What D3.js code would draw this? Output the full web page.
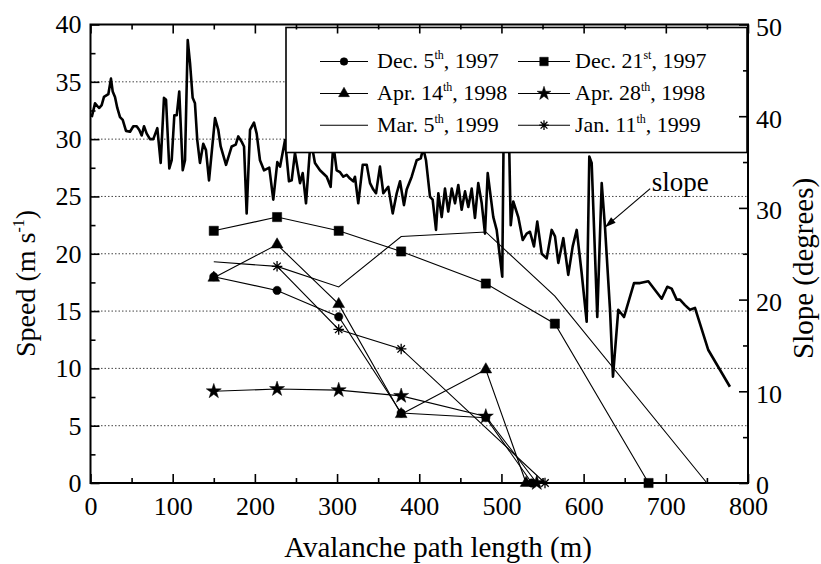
<!DOCTYPE html>
<html>
<head>
<meta charset="utf-8">
<script src="https://cdn.jsdelivr.net/npm/d3@7"></script>
<style>
  body { margin: 0; background: #fff; }
  svg { display: block; }
  text { font-family: "Liberation Serif", "Times New Roman", serif; fill: #000; }
</style>
</head>
<body>
<svg id="chart" width="821" height="564"></svg>
<script>
// ---- Avalanche front speeds (m/s) along the path (m) ----
const dec5X  = [150, 227, 302, 378, 481, 537];
const dec5V  = [18.0, 16.8, 14.5, 6.1, 5.7, 0];
const dec21X = [150, 227, 302, 378, 481, 565, 679];
const dec21V = [22.0, 23.2, 22.0, 20.2, 17.4, 13.9, 0];
const apr14X = [150, 227, 302, 378, 481, 530];
const apr14V = [17.9, 20.8, 15.6, 6.0, 9.9, 0];
const apr28X = [150, 227, 302, 378, 481, 543];
const apr28V = [8.0, 8.2, 8.1, 7.6, 5.8, 0];
const mar5X  = [150, 227, 302, 378, 481, 565, 750];
const mar5V  = [19.3, 18.9, 17.1, 21.5, 21.9, 16.3, 0];
const jan11X = [227, 302, 378, 553];
const jan11V = [18.9, 13.4, 11.7, 0];

// ---- Terrain slope profile (degrees) along the path (m) ----
const slopeDist = [1.5,5.5,8.3,10.7,13.6,16.4,21.7,24.9,27,29.8,
  32.6,35.9,39.2,43.2,48.1,52.1,56.2,59.4,62.3,65.1,
  68.4,72.4,76.4,81.3,85.4,89.4,91.9,95.9,98.8,102,
  104.9,108,112.2,115,118.3,121.1,124.3,127.1,129.9,133.2,
  137.2,140.5,144.2,151.5,155.5,158.4,164.9,171.8,176.7,179.8,
  184,186.8,190,194.1,198.9,202.2,206.2,211.1,217.5,222.4,
  227.3,230.6,236.7,241.5,244.8,248.8,251.6,254.9,258.2,262.2,
  267.9,273.1,279.2,287.4,292.2,295.4,299.5,303.6,307.6,311.7,
  315.7,319.7,321.8,325.8,331.2,336.1,340.1,344.1,347.4,352.2,
  356.3,362.3,367.7,372.6,376.6,381.4,384.7,390.8,396.9,401.8,
  404.9,408.2,413.1,416.3,420.4,423.2,427.3,431.3,435.3,439.5,
  443.5,447.5,451.6,455.7,459.7,463.8,467.8,471.8,476,480,
  483.3,490.1,494.2,501,503.1,508.3,511.3,514.4,520.5,525.9,
  530.7,534.7,539.6,543.6,549,555.1,561.1,565.2,569.2,575.3,
  581.3,586.7,591.6,597.6,603.7,606.9,609.8,616.6,622,626,
  632.1,635.7,642.2,649.1,661.3,668.6,678.7,695,701.8,707.1,
  713.2,717.2,723.3,729.4,735.5,751.7,778];
const slopeDeg = [39.9,41.4,41.1,40.9,41.2,42.1,42.4,44.1,42.7,42.1,
  40.9,39.9,39.6,38.4,38.3,38.9,38.9,38.5,37.9,38.9,
  38.1,37.5,37.5,38.7,34.9,42.0,41.8,34.3,35.2,40.1,
  40.1,42.7,34.1,35.2,48.3,45.8,42.0,41.4,37.4,34.9,
  37.0,36.3,33.0,39.8,38.5,36.7,34.7,36.7,36.9,37.8,
  37.2,36.7,29.4,38.5,39.3,38.1,35.2,34.1,34.4,30.9,
  35.0,34.5,37.4,32.9,33.0,36.0,34.5,32.7,33.8,30.5,
  37.5,34.9,34.1,33.4,32.3,37,34.1,33.9,33.4,33.6,
  33.2,32.9,33.4,30.5,34.7,34.7,32.7,32.0,31.6,34.5,
  31.6,32.3,29.4,31.6,32.9,30.3,32.0,33.4,35.2,35.4,
  36.5,35.2,31.2,30.9,27.6,31.6,29.0,32.1,29.6,32.1,
  30.5,32.5,29.8,31.8,30.1,32.1,28.9,32.7,30.5,27.2,
  33.8,29.0,27.6,22.5,42,42,28.1,30.7,29.0,26.5,
  27.2,27.4,25.8,28.5,25.0,24.5,27.6,26.9,24.0,26.7,
  22.7,25.8,27.6,22.9,17.6,35.6,34.9,18.1,32.7,27.9,
  18.9,11.6,18.9,18.1,21.8,21.8,22.0,20.1,21.4,21.2,
  20.0,20.0,19.4,18.9,19.1,14.5,10.5];

// ---- Axis ticks ----
const xTicks = [0, 100, 200, 300, 400, 500, 600, 700, 800];
const xMinor = [50, 150, 250, 350, 450, 550, 650, 750];
const speedTicks = [0, 5, 10, 15, 20, 25, 30, 35, 40];
const speedMinor = [2.5, 7.5, 12.5, 17.5, 22.5, 27.5, 32.5, 37.5];
const slopeTicks = [0, 10, 20, 30, 40, 50];
const slopeMinor = [5, 15, 25, 35, 45];
const gridSpeeds = [5, 10, 15, 20, 25, 30, 35];

// ---- Legend text ----
const legendDay  = ["Dec. 5", "Dec. 21", "Apr. 14", "Apr. 28", "Mar. 5", "Jan. 11"];
const legendSup  = ["th", "st", "th", "th", "th", "th"];
const legendYear = [", 1997", ", 1997", ", 1998", ", 1998", ", 1999", ", 1999"];

const SERIF = "'Liberation Serif', 'Times New Roman', serif";
const svg = d3.select("#chart");
const x = d3.scaleLinear().domain([0, 800]).range([90.5, 748]);
const ySpeed = d3.scaleLinear().domain([0, 40]).range([483, 24.5]);
const ySlope = d3.scaleLinear().domain([0, 50]).range([483, 24.5]);

// custom eight-armed asterisk (stroked)
const asteriskSym = {
  draw(ctx, size) {
    const r = Math.sqrt(size) / 2;
    const d = r * Math.SQRT1_2;
    ctx.moveTo(0, -r); ctx.lineTo(0, r);
    ctx.moveTo(-r, 0); ctx.lineTo(r, 0);
    ctx.moveTo(-d, -d); ctx.lineTo(d, d);
    ctx.moveTo(-d, d); ctx.lineTo(d, -d);
  }
};

const series = [
  { xs: dec5X,  vs: dec5V,  sym: d3.symbolCircle,   size: 55,  fill: true },
  { xs: dec21X, vs: dec21V, sym: d3.symbolSquare,   size: 85,  fill: true },
  { xs: apr14X, vs: apr14V, sym: d3.symbolTriangle, size: 60,  fill: true },
  { xs: apr28X, vs: apr28V, sym: d3.symbolStar,     size: 70,  fill: true },
  { xs: mar5X,  vs: mar5V,  sym: null,              size: 0,   fill: true },
  { xs: jan11X, vs: jan11V, sym: asteriskSym,       size: 110, fill: false }
];

// clip region = plot frame
svg.append("defs").append("clipPath").attr("id", "plotClip")
  .append("rect")
  .attr("x", x(0)).attr("y", ySpeed(40))
  .attr("width", x(800) - x(0)).attr("height", ySpeed(0) - ySpeed(40));

// dotted horizontal grid
svg.append("g").selectAll("line").data(gridSpeeds).join("line")
  .attr("x1", x(0)).attr("x2", x(800))
  .attr("y1", d => ySpeed(d)).attr("y2", d => ySpeed(d))
  .attr("stroke", "#444").attr("stroke-width", 1)
  .attr("stroke-dasharray", "1.5,2");

const plot = svg.append("g").attr("clip-path", "url(#plotClip)");

// terrain slope (right axis)
const slopePts = slopeDist.map((d, i) => [d, slopeDeg[i]]);
plot.append("path")
  .attr("d", d3.line().x(d => x(d[0])).y(d => ySlope(d[1]))(slopePts))
  .attr("fill", "none").attr("stroke", "#000")
  .attr("stroke-width", 2.6).attr("stroke-linejoin", "round");

// speed series
const speedLine = d3.line().x(d => x(d[0])).y(d => ySpeed(d[1]));
series.forEach(s => {
  const pts = s.xs.map((d, i) => [d, s.vs[i]]);
  svg.append("path").attr("d", speedLine(pts))
    .attr("fill", "none").attr("stroke", "#000").attr("stroke-width", 1.1);
  if (s.sym) {
    svg.append("g").selectAll("path").data(pts).join("path")
      .attr("transform", d => `translate(${x(d[0])},${ySpeed(d[1])})`)
      .attr("d", d3.symbol().type(s.sym).size(s.size))
      .attr("fill", s.fill ? "#000" : "none")
      .attr("stroke", "#000").attr("stroke-width", s.fill ? 0.5 : 1.3);
  }
});

// legend
const lg = svg.append("g");
lg.append("rect").attr("x", 286).attr("y", 27.5).attr("width", 461).attr("height", 125)
  .attr("fill", "#fff").attr("stroke", "#000").attr("stroke-width", 1.6);
const colLine = [[320, 368], [518, 570]];
const colText = [377, 575];
const rowBase = [68, 100, 131.7];
series.forEach((s, i) => {
  const c = i % 2, r = Math.floor(i / 2);
  const cy = rowBase[r] - 6.5;
  lg.append("line").attr("x1", colLine[c][0]).attr("x2", colLine[c][1])
    .attr("y1", cy).attr("y2", cy).attr("stroke", "#000").attr("stroke-width", 1.1);
  if (s.sym) {
    lg.append("path")
      .attr("transform", `translate(${(colLine[c][0] + colLine[c][1]) / 2},${cy})`)
      .attr("d", d3.symbol().type(s.sym).size(s.size * 0.85))
      .attr("fill", s.fill ? "#000" : "none")
      .attr("stroke", "#000").attr("stroke-width", s.fill ? 0.5 : 1.3);
  }
  const t = lg.append("text").attr("x", colText[c]).attr("y", rowBase[r]).attr("font-size", 22);
  t.append("tspan").text(legendDay[i]);
  t.append("tspan").attr("font-size", 12).attr("dy", -9).text(legendSup[i]);
  t.append("tspan").attr("dy", 9).text(legendYear[i]);
});

// axes: ticks point inward
const axisStyle = g => {
  g.attr("font-family", null);
  g.select(".domain").remove();
  g.selectAll(".tick line").attr("stroke", "#000").attr("stroke-width", 1.6);
  g.selectAll("text").attr("font-size", 26).attr("fill", "#000");
};
svg.append("g").attr("transform", `translate(0,${ySpeed(0)})`)
  .call(d3.axisBottom(x).tickValues(xTicks).tickSize(-9).tickPadding(14).tickFormat(d3.format("d")))
  .call(axisStyle)
  .call(g => g.selectAll("text").attr("dy", "0.71em"));
svg.append("g").attr("transform", `translate(0,${ySpeed(0)})`)
  .call(d3.axisBottom(x).tickValues(xMinor).tickSize(-5).tickFormat(""))
  .call(axisStyle);
svg.append("g").attr("transform", `translate(0,${ySpeed(40)})`)
  .call(d3.axisTop(x).tickValues(xTicks).tickSize(-9).tickFormat(""))
  .call(axisStyle);
svg.append("g").attr("transform", `translate(0,${ySpeed(40)})`)
  .call(d3.axisTop(x).tickValues(xMinor).tickSize(-5).tickFormat(""))
  .call(axisStyle);
svg.append("g").attr("transform", `translate(${x(0)},0)`)
  .call(d3.axisLeft(ySpeed).tickValues(speedTicks).tickSize(-9).tickPadding(9).tickFormat(d3.format("d")))
  .call(axisStyle);
svg.append("g").attr("transform", `translate(${x(0)},0)`)
  .call(d3.axisLeft(ySpeed).tickValues(speedMinor).tickSize(-5).tickFormat(""))
  .call(axisStyle);
svg.append("g").attr("transform", `translate(${x(800)},0)`)
  .call(d3.axisRight(ySlope).tickValues(slopeTicks).tickSize(-9).tickPadding(8).tickFormat(d3.format("d")))
  .call(axisStyle)
  .call(g => g.selectAll("text").attr("dy", "0.42em"));
svg.append("g").attr("transform", `translate(${x(800)},0)`)
  .call(d3.axisRight(ySlope).tickValues(slopeMinor).tickSize(-5).tickFormat(""))
  .call(axisStyle);

// plot frame
svg.append("rect").attr("x", x(0)).attr("y", ySpeed(40))
  .attr("width", x(800) - x(0)).attr("height", ySpeed(0) - ySpeed(40))
  .attr("fill", "none").attr("stroke", "#000").attr("stroke-width", 2);

// axis titles
svg.append("text").attr("x", 592).attr("y", 557)
  .attr("text-anchor", "end").attr("font-size", 29).text("Avalanche path length (m)");
const yt = svg.append("text").attr("transform", "translate(35,357) rotate(-90)")
  .attr("text-anchor", "start").attr("font-size", 28);
yt.append("tspan").text("Speed (m s");
yt.append("tspan").attr("font-size", 16).attr("dy", -11).text("-1");
yt.append("tspan").attr("dy", 11).text(")");
svg.append("text").attr("transform", "translate(813,359) rotate(-90)")
  .attr("text-anchor", "start").attr("font-size", 29).text("Slope (degrees)");

// slope annotation with arrow
const tip = [626, 27.9], tail = [681, 32.1];
svg.append("text").attr("x", x(683)).attr("y", ySlope(31.8)).attr("font-size", 27).text("slope");
const tx = x(tip[0]), ty = ySlope(tip[1]), sx = x(tail[0]), sy = ySlope(tail[1]);
svg.append("line").attr("x1", sx).attr("y1", sy).attr("x2", tx).attr("y2", ty)
  .attr("stroke", "#000").attr("stroke-width", 1.2);
const ang = Math.atan2(ty - sy, tx - sx), L = 11, W = 3.5;
const bx = tx - L * Math.cos(ang), by = ty - L * Math.sin(ang);
svg.append("path")
  .attr("d", `M${tx},${ty}L${bx + W * Math.sin(ang)},${by - W * Math.cos(ang)}L${bx - W * Math.sin(ang)},${by + W * Math.cos(ang)}Z`)
  .attr("fill", "#000");

// serif face on every label
svg.selectAll("text").style("font-family", SERIF);
</script>
</body>
</html>
